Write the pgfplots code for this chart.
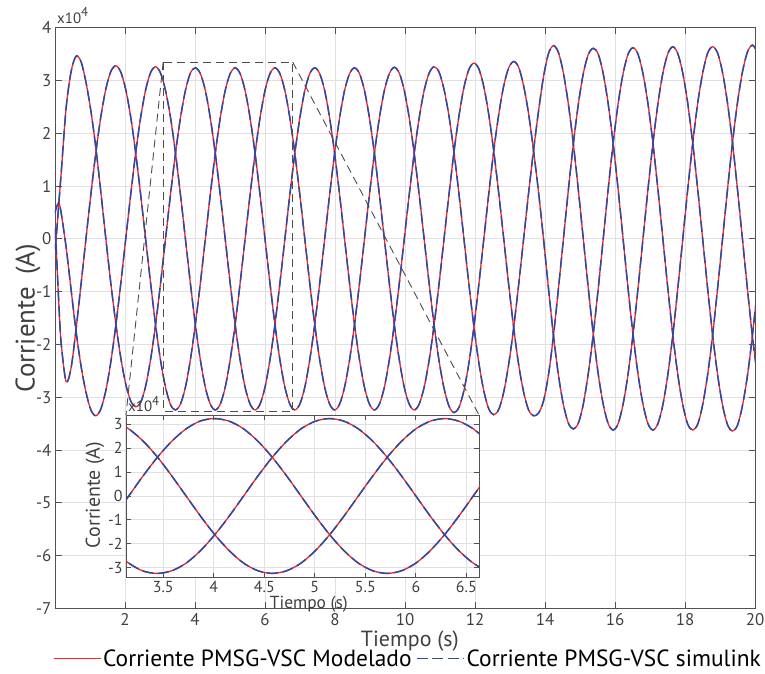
\documentclass[border=0pt]{standalone}
\usepackage{fontspec}
\setmainfont{PT Sans}
\usepackage{pgfplots}
\pgfplotsset{compat=1.18}
\usepackage{pgfplotstable}
\definecolor{myred}{rgb}{1,0.12,0.12}
\definecolor{myblue}{rgb}{0.17,0.29,0.66}
\definecolor{axgray}{rgb}{0.32,0.32,0.32}
\definecolor{txtgray}{rgb}{0.25,0.25,0.25}
\definecolor{gridgray}{rgb}{0.88,0.88,0.88}
% currents in units of 10^4 A
\pgfplotstableread{
t a b c
0.000 -0.20 0.49 0.20
0.032 0.00 0.58 -0.15
0.110 0.68 0.68 -1.23
0.174 1.22 0.50 -1.96
0.316 2.47 -0.15 -2.70
0.458 3.16 -0.95 -2.45
0.600 3.46 -1.74 -1.72
0.742 3.36 -2.40 -0.87
0.884 2.97 -2.90 0.00
1.026 2.42 -3.24 0.85
1.168 1.72 -3.35 1.64
1.311 0.88 -3.22 2.32
1.453 0.00 -2.87 2.84
1.595 -0.84 -2.33 3.17
1.737 -1.60 -1.64 3.28
1.879 -2.25 -0.85 3.16
2.021 -2.75 0.00 2.83
2.163 -3.07 0.84 2.31
2.305 -3.18 1.63 1.63
2.447 -3.10 2.30 0.84
2.589 -2.79 2.82 0.00
2.732 -2.28 3.15 -0.84
2.874 -1.62 3.26 -1.63
3.016 -0.84 3.14 -2.30
3.158 0.00 2.81 -2.81
3.300 0.84 2.30 -3.14
3.442 1.62 1.63 -3.24
3.584 2.29 0.84 -3.13
3.726 2.81 0.00 -2.81
3.868 3.14 -0.84 -2.29
4.010 3.24 -1.62 -1.62
4.153 3.13 -2.29 -0.84
4.295 2.81 -2.81 0.00
4.437 2.29 -3.13 0.84
4.579 1.62 -3.24 1.62
4.721 0.84 -3.13 2.29
4.863 0.00 -2.81 2.81
5.005 -0.84 -2.29 3.13
5.147 -1.62 -1.62 3.24
5.289 -2.29 -0.84 3.13
5.431 -2.81 0.00 2.81
5.574 -3.13 0.84 2.29
5.716 -3.24 1.62 1.62
5.858 -3.13 2.29 0.84
6.000 -2.81 2.81 0.00
6.142 -2.29 3.13 -0.84
6.284 -1.62 3.24 -1.62
6.426 -0.84 3.13 -2.29
6.568 0.00 2.81 -2.81
6.710 0.84 2.29 -3.13
6.852 1.62 1.62 -3.24
6.995 2.29 0.84 -3.13
7.137 2.81 0.00 -2.81
7.279 3.13 -0.84 -2.29
7.421 3.24 -1.62 -1.62
7.563 3.13 -2.29 -0.84
7.705 2.81 -2.81 0.00
7.847 2.29 -3.13 0.84
7.989 1.62 -3.24 1.62
8.131 0.84 -3.13 2.29
8.273 0.00 -2.81 2.81
8.416 -0.84 -2.29 3.13
8.558 -1.62 -1.62 3.24
8.700 -2.29 -0.84 3.13
8.842 -2.81 0.00 2.81
8.984 -3.13 0.84 2.29
9.126 -3.24 1.62 1.62
9.268 -3.13 2.29 0.84
9.410 -2.81 2.81 0.00
9.552 -2.29 3.13 -0.84
9.694 -1.62 3.25 -1.62
9.837 -0.84 3.14 -2.29
9.979 0.00 2.81 -2.81
10.121 0.84 2.29 -3.13
10.263 1.62 1.62 -3.24
10.405 2.29 0.84 -3.13
10.547 2.81 0.00 -2.81
10.689 3.14 -0.84 -2.30
10.831 3.26 -1.63 -1.63
10.973 3.16 -2.31 -0.85
11.115 2.83 -2.83 0.00
11.258 2.32 -3.17 0.85
11.400 1.64 -3.29 1.65
11.542 0.85 -3.19 2.33
11.684 0.00 -2.87 2.87
11.826 -0.86 -2.35 3.21
11.968 -1.66 -1.67 3.33
12.110 -2.35 -0.86 3.22
12.252 -2.88 0.00 2.88
12.394 -3.22 0.86 2.35
12.536 -3.33 1.67 1.66
12.679 -3.23 2.36 0.86
12.821 -2.90 2.90 0.00
12.963 -2.37 3.24 -0.87
13.105 -1.68 3.36 -1.68
13.247 -0.87 3.25 -2.38
13.389 0.00 2.90 -2.90
13.531 0.87 2.37 -3.24
13.673 1.68 1.67 -3.35
13.815 2.42 0.89 -3.30
13.957 3.07 0.00 -3.07
14.100 3.51 -0.94 -2.57
14.242 3.66 -1.83 -1.83
14.384 3.53 -2.58 -0.94
14.526 3.14 -3.14 0.00
14.668 2.55 -3.49 0.93
14.810 1.80 -3.60 1.80
14.952 0.93 -3.49 2.55
15.094 0.00 -3.13 3.13
15.236 -0.93 -2.55 3.49
15.378 -1.80 -1.81 3.61
15.521 -2.56 -0.94 3.50
15.663 -3.13 0.00 3.13
15.805 -3.50 0.94 2.56
15.947 -3.62 1.81 1.81
16.089 -3.50 2.56 0.94
16.231 -3.13 3.13 0.00
16.373 -2.56 3.50 -0.94
16.515 -1.81 3.62 -1.81
16.657 -0.94 3.50 -2.56
16.799 0.00 3.13 -3.13
16.942 0.94 2.56 -3.50
17.084 1.81 1.81 -3.62
17.226 2.56 0.94 -3.50
17.368 3.14 0.00 -3.14
17.510 3.51 -0.94 -2.57
17.652 3.64 -1.82 -1.82
17.794 3.51 -2.57 -0.94
17.936 3.14 -3.14 0.00
18.078 2.57 -3.51 0.94
18.220 1.81 -3.62 1.81
18.363 0.94 -3.51 2.57
18.505 0.00 -3.14 3.14
18.647 -0.94 -2.57 3.52
18.789 -1.82 -1.82 3.64
18.931 -2.57 -0.94 3.52
19.073 -3.15 0.00 3.15
19.215 -3.52 0.94 2.57
19.357 -3.64 1.82 1.82
19.499 -3.53 2.58 0.94
19.641 -3.16 3.16 0.00
19.784 -2.59 3.54 -0.95
19.926 -1.83 3.67 -1.84
20.068 -0.95 3.54 -2.60
}\datatab

\pgfplotsset{
  redline/.style={myred, line width=1.3bp, smooth},
  blueline/.style={myblue, line width=1.5bp, dash pattern=on 11bp off 4.5bp, smooth},
  matlabaxis/.style={
    scale only axis,
    axis line style={axgray, line width=0.9bp},
    tick style={axgray, line width=0.9bp},
    tick align=inside,
    xtick pos=both, ytick pos=both,
    grid=major,
    major grid style={gridgray, line width=0.9bp},
    ticklabel style={text=txtgray},
    label style={text=txtgray},
  },
}

\begin{document}
\begin{tikzpicture}
\useasboundingbox (0,0) rectangle (765bp,674bp);
\begin{axis}[
  matlabaxis,
  name=main,
  at={(55bp,65.5bp)}, anchor=south west,
  width=700bp, height=580.8bp,
  xmin=0, xmax=20, ymin=-7, ymax=4,
  xtick={2,4,6,8,10,12,14,16,18,20},
  xticklabels={2,4,6,8,10,12,14,16,18,20},
  ytick={-7,-6,-5,-4,-3,-2,-1,0,1,2,3,4},
  yticklabels={-7,-6,-5,-4,-3,-2,-1,0,1,2,3,4},
  major tick length=6.5bp,
  ticklabel style={font=\fontsize{17}{17}\selectfont},
  xticklabel style={inner sep=0.5bp, yshift=-4.5bp},
  xlabel={Tiempo (s)},
  xlabel style={font=\fontsize{22}{22}\selectfont, inner sep=0pt, at={(axis description cs:0.507,-0.0567)}, anchor=center},
  ylabel={Corriente\hspace{0.45em}(A)},
  ylabel style={font=\fontsize{27}{27}\selectfont, at={(axis description cs:-0.0386,0.50)}, anchor=center},
  legend style={at={(axis description cs:0.503,-0.086)}, anchor=center, draw=none, fill=none,
    font=\fontsize{23.5}{23.5}\selectfont, text=black, legend columns=2,
    inner sep=0bp, outer sep=0bp, nodes={inner sep=0.5bp, anchor=west},
    /tikz/every even column/.append style={column sep=4bp},
    /tikz/every odd column/.append style={column sep=1.5bp}},
  legend image code/.code={\draw[#1] (0bp,0bp) -- (47bp,0bp);},
]
\addplot[redline] table[x=t,y=a] {\datatab};
\addlegendentry{Corriente PMSG-VSC Modelado}
\addplot[redline, forget plot] table[x=t,y=b] {\datatab};
\addplot[redline, forget plot] table[x=t,y=c] {\datatab};
\addplot[blueline] table[x=t,y=a] {\datatab};
\addlegendentry{Corriente PMSG-VSC simulink}
\addplot[blueline, forget plot] table[x=t,y=b] {\datatab};
\addplot[blueline, forget plot] table[x=t,y=c] {\datatab};
\draw[black!70, line width=0.9bp, dash pattern=on 8bp off 5bp] (axis cs:3.09,3.35) rectangle (axis cs:6.79,-3.27);
\coordinate (zTL) at (axis cs:3.09,3.35);
\coordinate (zTR) at (axis cs:6.79,3.35);
\end{axis}
\node[anchor=south west, inner sep=0pt, text=txtgray, font=\fontsize{15}{15}\selectfont] at (57bp,650bp) {x10\raisebox{0.45em}{\fontsize{13}{13}\selectfont 4}};

\begin{axis}[
  matlabaxis,
  name=inset,
  at={(126bp,96.3bp)}, anchor=south west,
  width=353bp, height=162.7bp,
  axis background/.style={fill=white},
  xmin=3.131, xmax=6.625, ymin=-3.42, ymax=3.39,
  xtick={3.5,4,4.5,5,5.5,6,6.5},
  xticklabels={3.5,4,4.5,5,5.5,6,6.5},
  ytick={-3,-2,-1,0,1,2,3},
  yticklabels={-3,-2,-1,0,1,2,3},
  major tick length=5bp,
  ticklabel style={font=\fontsize{16}{16}\selectfont},
  xticklabel style={inner sep=0.5bp, yshift=-2.5bp},
  xlabel={Tiempo (s)},
  xlabel style={font=\fontsize{17.5}{17.5}\selectfont, inner sep=0pt, at={(axis description cs:0.518,-0.1604)}, anchor=center},
  ylabel={Corriente (A)},
  ylabel style={font=\fontsize{20}{20}\selectfont, at={(axis description cs:-0.088,0.508)}, anchor=center},
]
\addplot[redline] table[x=t,y=a] {\datatab};
\addplot[redline] table[x=t,y=b] {\datatab};
\addplot[redline] table[x=t,y=c] {\datatab};
\addplot[blueline] table[x=t,y=a] {\datatab};
\addplot[blueline] table[x=t,y=b] {\datatab};
\addplot[blueline] table[x=t,y=c] {\datatab};
\end{axis}
\node[anchor=base west, inner sep=0pt, text=txtgray, font=\fontsize{15}{15}\selectfont] at (128bp,262bp) {x10\raisebox{0.45em}{\fontsize{13}{13}\selectfont 4}};
\draw[black!70, line width=0.9bp, dash pattern=on 8bp off 5bp] (zTL) -- (inset.north west);
\draw[black!70, line width=0.9bp, dash pattern=on 8bp off 5bp] (zTR) -- (inset.north east);
\end{tikzpicture}
\end{document}
